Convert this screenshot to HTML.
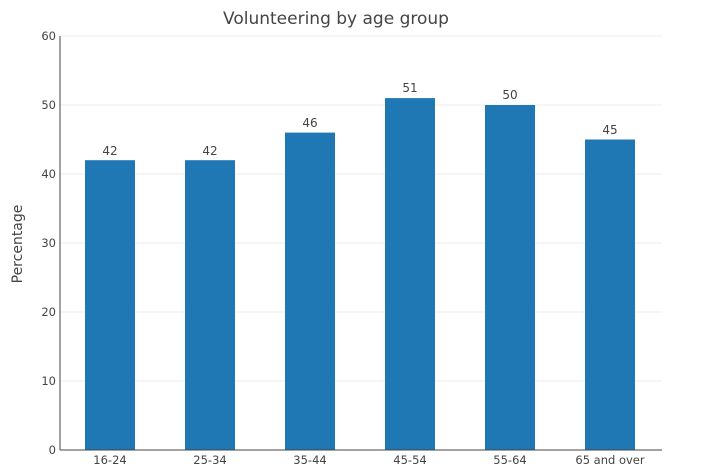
<!DOCTYPE html>
<html><head><meta charset="utf-8"><style>
body{margin:0;background:#fff;}
svg{display:block;font-family:"DejaVu Sans","Liberation Sans",sans-serif;}
</style></head><body>
<svg width="718" height="467" viewBox="0 0 718 467">
<rect width="718" height="467" fill="#fff"/>
<text x="336" y="24" text-anchor="middle" font-size="17" fill="#444">Volunteering by age group</text>
<g stroke="#eee" stroke-width="1">
<line x1="60" x2="662" y1="381" y2="381"/>
<line x1="60" x2="662" y1="312" y2="312"/>
<line x1="60" x2="662" y1="243" y2="243"/>
<line x1="60" x2="662" y1="174" y2="174"/>
<line x1="60" x2="662" y1="105" y2="105"/>
<line x1="60" x2="662" y1="36" y2="36"/>
</g>
<g fill="#1f77b4">
<rect x="85" y="160.2" width="50" height="289.8"/>
<rect x="185" y="160.2" width="50" height="289.8"/>
<rect x="285" y="132.6" width="50" height="317.4"/>
<rect x="385" y="98.1" width="50" height="351.9"/>
<rect x="485" y="105" width="50" height="345"/>
<rect x="585" y="139.5" width="50" height="310.5"/>
</g>
<g font-size="12" fill="#444" text-anchor="middle">
<text x="110" y="155">42</text>
<text x="210" y="155">42</text>
<text x="310" y="127">46</text>
<text x="410" y="92">51</text>
<text x="510" y="99">50</text>
<text x="610" y="134">45</text>
</g>
<line x1="60" x2="60" y1="36" y2="450" stroke="#444"/>
<line x1="60" x2="662" y1="450" y2="450" stroke="#444"/>
<g font-size="11.5" fill="#444" text-anchor="end">
<text x="56" y="454">0</text>
<text x="56" y="385">10</text>
<text x="56" y="316">20</text>
<text x="56" y="247">30</text>
<text x="56" y="178">40</text>
<text x="56" y="109">50</text>
<text x="56" y="40">60</text>
</g>
<g font-size="11.5" fill="#444" text-anchor="middle">
<text x="110" y="464">16-24</text>
<text x="210" y="464">25-34</text>
<text x="310" y="464">35-44</text>
<text x="410" y="464">45-54</text>
<text x="510" y="464">55-64</text>
<text x="610" y="464">65 and over</text>
</g>
<text transform="translate(22,244) rotate(-90)" text-anchor="middle" font-size="14" fill="#444">Percentage</text>
</svg>
</body></html>
